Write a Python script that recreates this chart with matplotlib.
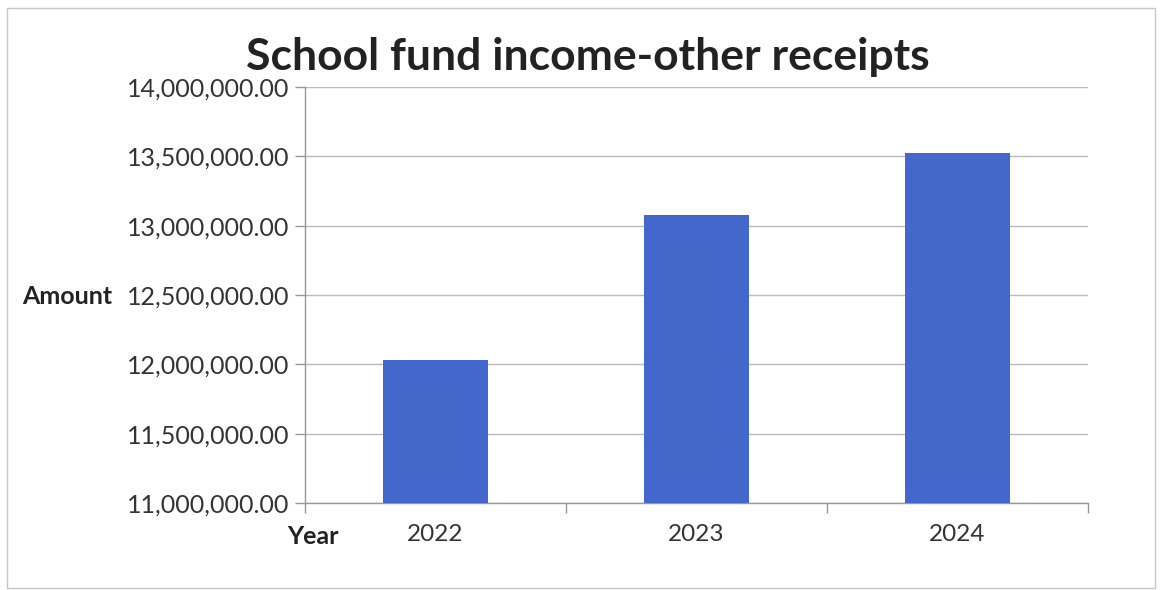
import matplotlib
matplotlib.use("Agg")
import matplotlib.pyplot as plt
from matplotlib.ticker import FuncFormatter, MultipleLocator, FixedLocator
from matplotlib.patches import Rectangle

categories = ["2022", "2023", "2024"]
amounts = [12031000, 13077000, 13524000]
title = "School fund income-other receipts"

plt.rcParams['font.family'] = ['Lato', 'DejaVu Sans']

fig = plt.figure(figsize=(11.6, 5.9), dpi=100)
ax = fig.add_axes([305/1160, 1-503/590, (1088-305)/1160, (503-87)/590])

x = list(range(len(categories)))
ax.bar(x, amounts, width=0.4, color='#4467CB', zorder=3)
ax.set_xlim(-0.5, len(categories)-0.5)
ax.set_ylim(11000000, 14000000)
ax.yaxis.set_major_locator(MultipleLocator(500000))
ax.yaxis.set_major_formatter(FuncFormatter(lambda v, p: f"{v:,.2f}"))
ax.grid(axis='y', color='#bdb8bd', linewidth=1.0, zorder=0)

ax.set_xticks(x)
ax.set_xticklabels(categories)
ax.xaxis.set_minor_locator(FixedLocator([i - 0.5 for i in range(len(categories)+1)]))
ax.tick_params(axis='x', which='major', length=0, labelsize=17.5, pad=15, labelcolor='#333333')
ax.tick_params(axis='x', which='minor', length=7, color='#9a969a', width=1)
ax.tick_params(axis='y', which='major', length=7, color='#9a969a', width=1, labelsize=18, pad=4, labelcolor='#333333')

for s in ['top', 'right']:
    ax.spines[s].set_visible(False)
for s in ['left', 'bottom']:
    ax.spines[s].set_color('#9a969a')
    ax.spines[s].set_linewidth(1)

fig.text(588/1160, 1-57/590, title, ha='center', va='center', fontsize=32, fontweight='bold', color='#222222')
fig.text(67/1160, 1-297/590, "Amount", ha='center', va='center', fontsize=18, fontweight='bold', color='#222222')
fig.text(313/1160, 1-537/590, "Year", ha='center', va='center', fontsize=18, fontweight='bold', color='#222222')

fig.patches.append(Rectangle((7/1160, 1-588/590), (1155-7)/1160, (588-8)/590, transform=fig.transFigure,
                             fill=False, edgecolor='#c8c4c8', linewidth=1))

fig.savefig("out.png", dpi=100, facecolor='white')
